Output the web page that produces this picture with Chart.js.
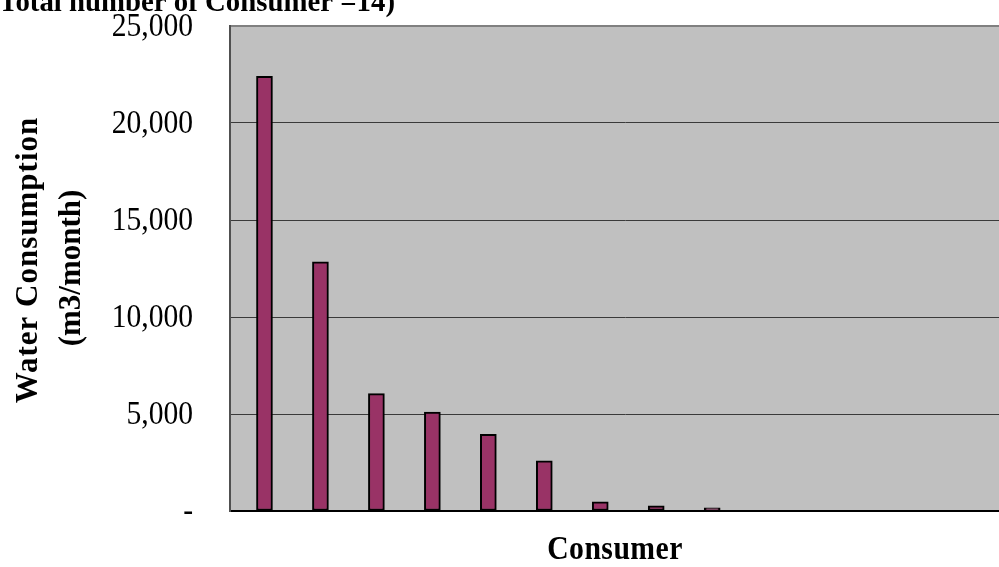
<!DOCTYPE html>
<html>
<head>
<meta charset="utf-8">
<title>Water Consumption by Consumer</title>
<script src="https://cdn.jsdelivr.net/npm/chart.js@4.4.1/dist/chart.umd.min.js"></script>
<style>
  html, body { margin: 0; padding: 0; background: #fff; }
  #frame { width: 999px; height: 567px; overflow: hidden; position: relative; }
  #box { width: 1020px; height: 567px; position: absolute; left: 0; top: 0; }
</style>
</head>
<body>
<div id="frame">
  <div id="box"><canvas id="chart"></canvas></div>
</div>
<script>
// consumers ranked by monthly usage (total number of consumers = 14)
const consumers = [1, 2, 3, 4, 5, 6, 7, 8, 9, 10, 11, 12, 13, 14];
const consumption = [22400, 12850, 6050, 5100, 3950, 2580, 470, 270, 160, 0, 0, 0, 0, 0];
const yTicks = [0, 5000, 10000, 15000, 20000, 25000];

const titleText = "(Total number of Consumer =14)";
const yTitle = ["Water Consumption", "(m3/month)"];
const xTitle = "Consumer";

const serif = '"Liberation Serif", "Times New Roman", serif';

const tickLabel = (v) => (v === 0 ? "-" : v.toLocaleString("en-US"));

// text squeezed horizontally, the way the old spreadsheet export renders it
const drawText = (ctx, text, x, y, sx, align, baseline) => {
  ctx.save();
  ctx.translate(x, y);
  ctx.scale(sx, 1);
  ctx.textAlign = align;
  ctx.textBaseline = baseline;
  ctx.fillText(text, 0, 0);
  ctx.restore();
};

// gray plot area, tick labels and titles drawn straight on the canvas
const decorations = {
  id: "decorations",
  beforeDraw: (chart) => {
    const { ctx, chartArea } = chart;
    ctx.save();
    ctx.fillStyle = "#fff";
    ctx.fillRect(0, 0, chart.width, chart.height);
    ctx.fillStyle = "#C0C0C0";
    ctx.fillRect(chartArea.left, chartArea.top, chartArea.right - chartArea.left, chartArea.bottom - chartArea.top);
    ctx.restore();
  },
  afterDraw: (chart) => {
    const { ctx } = chart;
    const yScale = chart.scales.y;
    ctx.save();
    ctx.fillStyle = "#000";

    // y tick labels
    ctx.font = "34px " + serif;
    yTicks.forEach((v) => {
      drawText(ctx, tickLabel(v), 193, yScale.getPixelForValue(v) + 1, 0.87, "right", "middle");
    });

    // chart title, top part sits above the canvas edge
    ctx.font = "bold 30px " + serif;
    drawText(ctx, titleText, 395, 11, 0.96, "right", "alphabetic");

    // y axis title, two rotated lines
    ctx.font = "bold 31px " + serif;
    ctx.textAlign = "center";
    ctx.textBaseline = "alphabetic";
    ctx.letterSpacing = "1px";
    ctx.save();
    ctx.translate(37, 260);
    ctx.rotate(-Math.PI / 2);
    ctx.fillText(yTitle[0], 0, 0);
    ctx.restore();
    ctx.letterSpacing = "0px";
    ctx.save();
    ctx.translate(80, 268);
    ctx.rotate(-Math.PI / 2);
    ctx.fillText(yTitle[1], 0, 0);
    ctx.restore();

    // x axis title
    ctx.font = "bold 33px " + serif;
    ctx.letterSpacing = "0.5px";
    drawText(ctx, xTitle, 615, 559, 0.9, "center", "alphabetic");
    ctx.restore();
  },
};

const ctx = document.getElementById("chart").getContext("2d");

new Chart(ctx, {
  type: "bar",
  data: {
    datasets: [
      {
        label: "Water Consumption",
        data: consumers.map((c, i) => ({ x: c, y: consumption[i] })),
        backgroundColor: "#993366",
        borderColor: "#000",
        borderWidth: 2,
        borderSkipped: false,
        barThickness: 16,
      },
    ],
  },
  options: {
    responsive: true,
    maintainAspectRatio: false,
    animation: false,
    devicePixelRatio: 1,
    layout: {
      padding: { top: 26, bottom: 56, left: 0, right: 0 },
    },
    plugins: {
      legend: { display: false },
      tooltip: { enabled: false },
    },
    scales: {
      x: {
        type: "linear",
        min: 0.384,
        max: 14.5,
        offset: false,
        ticks: { display: false },
        grid: { display: false, drawTicks: false },
        border: { display: true, color: "#000", width: 2 },
        afterFit: (scale) => {
          scale.height = 0;
        },
      },
      y: {
        min: 0,
        max: 25000,
        afterBuildTicks: (scale) => {
          scale.ticks = yTicks.map((v) => ({ value: v }));
        },
        ticks: { display: false },
        grid: {
          drawTicks: false,
          color: (c) => (c.tick && c.tick.value === 25000 ? "#808080" : "#3a3a3a"),
          lineWidth: (c) => (c.tick && c.tick.value === 25000 ? 2 : 1),
        },
        border: { display: true, color: "#505050", width: 2 },
        afterFit: (scale) => {
          scale.width = 230;
        },
      },
    },
  },
  plugins: [decorations],
});
</script>
</body>
</html>
